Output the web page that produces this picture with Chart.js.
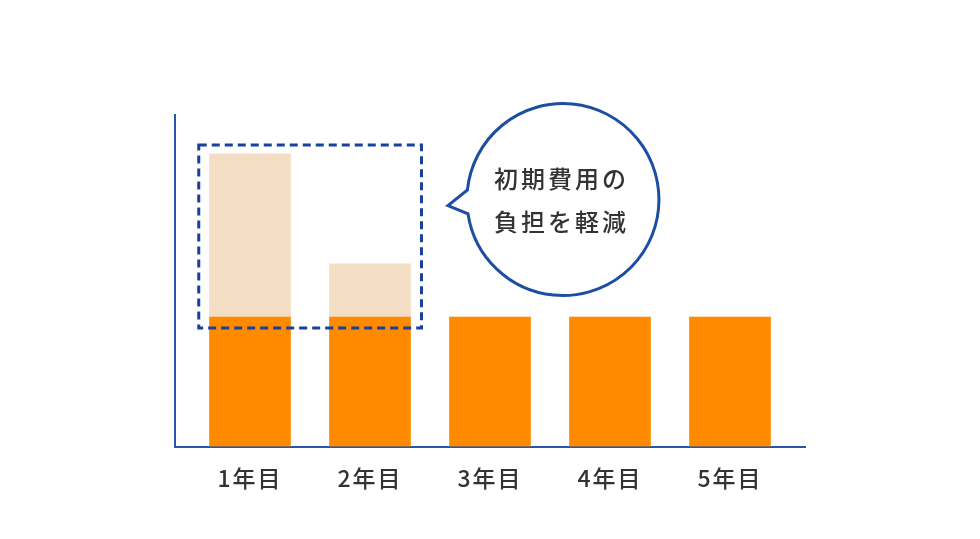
<!DOCTYPE html>
<html>
<head>
<meta charset="utf-8">
<script src="https://cdn.jsdelivr.net/npm/chart.js@4.4.0/dist/chart.umd.min.js"></script>
<style>
html,body{margin:0;padding:0;background:#fff;}
#wrap{width:980px;height:539px;}
</style>
</head>
<body>
<div id="wrap"><canvas id="c" width="980" height="539"></canvas></div>
<script>
const categories = ['1年目', '2年目', '3年目', '4年目', '5年目'];
const runningCost = [100, 100, 100, 100, 100];
const initialCost = [126, 41, 0, 0, 0];
const bubbleLines = ['初期費用の', '負担を軽減'];

const toPoints = arr => arr.map((v, i) => ({x: i, y: v}));

const overlay = {
  id: 'overlay',
  beforeDraw(chart) {
    chart.ctx.letterSpacing = '2px';
  },
  afterDatasetsDraw(chart) {
    const {ctx, scales: {x, y}} = chart;
    ctx.save();
    ctx.letterSpacing = '0px';
    // dashed highlight box around first two years
    const l = x.getPixelForValue(-0.427), r = x.getPixelForValue(1.429);
    const t = y.getPixelForValue(232.8), b = y.getPixelForValue(91.5);
    ctx.strokeStyle = '#17419a';
    ctx.lineWidth = 3;
    ctx.setLineDash([8, 5]);
    ctx.strokeRect(l, t, r - l, b - t);
    ctx.setLineDash([]);
    // speech bubble
    const cx = x.getPixelForValue(2.608), cy = y.getPixelForValue(190.7), rad = 96;
    const tipX = cx - 115, tipY = cy + 6;
    ctx.beginPath();
    ctx.arc(cx, cy, rad, Math.PI + 0.10, Math.PI - 0.15);
    ctx.lineTo(tipX, tipY);
    ctx.closePath();
    ctx.fillStyle = '#ffffff';
    ctx.fill();
    ctx.strokeStyle = '#1d4ea3';
    ctx.lineWidth = 3;
    ctx.lineJoin = 'miter';
    ctx.stroke();
    // bubble text
    ctx.fillStyle = '#333333';
    ctx.font = '500 24px "Noto Sans CJK JP"';
    ctx.letterSpacing = '3px';
    ctx.textAlign = 'center';
    ctx.textBaseline = 'middle';
    ctx.fillText(bubbleLines[0], cx - 3 + 1.5, cy - 20.5);
    ctx.fillText(bubbleLines[1], cx - 3 + 1.5, cy + 22);
    ctx.restore();
  },
  afterDraw(chart) {
    chart.ctx.letterSpacing = '0px';
  }
};

new Chart(document.getElementById('c'), {
  type: 'bar',
  data: {
    datasets: [
      {
        label: 'running',
        data: toPoints(runningCost),
        backgroundColor: '#ff8a00',
        barThickness: 81,
        borderWidth: 0
      },
      {
        label: 'initial',
        data: toPoints(initialCost),
        backgroundColor: '#f4ddc5',
        barThickness: 81,
        borderWidth: 0
      }
    ]
  },
  options: {
    responsive: false,
    animation: false,
    layout: {padding: {left: 175, right: 175, top: 115, bottom: 0}},
    plugins: {legend: {display: false}, tooltip: {enabled: false}},
    scales: {
      x: {
        type: 'linear',
        stacked: true,
        offset: false,
        min: -0.625,
        max: 4.625,
        afterBuildTicks(scale) {
          scale.ticks = categories.map((c, i) => ({value: i}));
        },
        afterFit(scale) { scale.height = 92.5; },
        grid: {display: false, drawTicks: false, offset: false},
        border: {display: true, color: '#2a56a6', width: 2},
        ticks: {
          autoSkip: false,
          maxRotation: 0,
          padding: 18,
          color: '#333333',
          font: {family: '"Noto Sans CJK JP"', size: 23, weight: '500'},
          callback: (v) => categories[v] ?? ''
        }
      },
      y: {
        stacked: true,
        min: 0,
        max: 256,
        afterFit(scale) { scale.width = 0; },
        grid: {display: false, drawTicks: false},
        border: {display: true, color: '#2a56a6', width: 2},
        ticks: {display: false}
      }
    }
  },
  plugins: [overlay]
});
</script>
</body>
</html>
